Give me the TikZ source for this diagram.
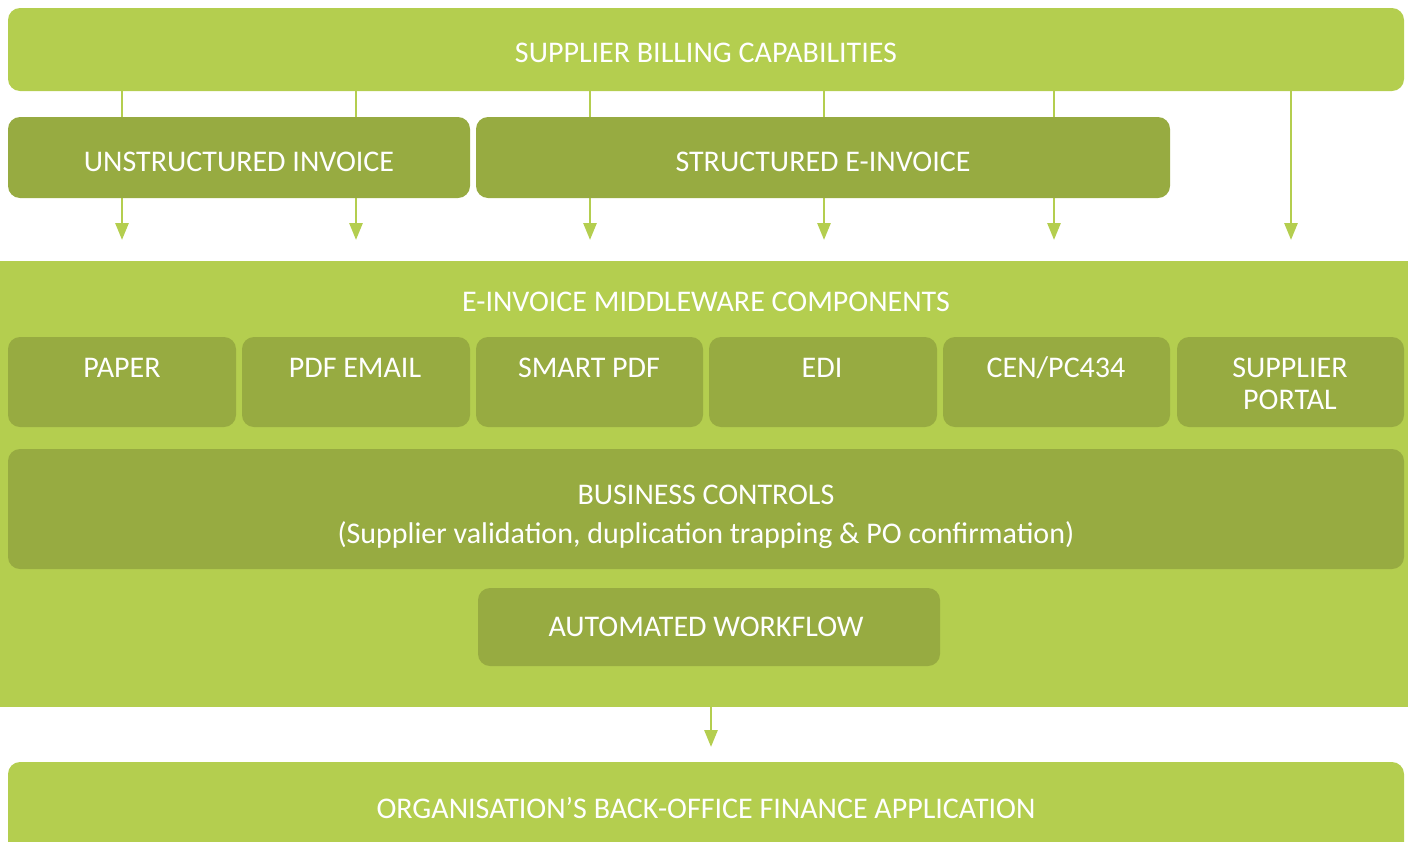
\documentclass[tikz,border=0pt]{standalone}
\usepackage{fontspec}
\setmainfont{Carlito}
\usetikzlibrary{arrows.meta}
\definecolor{lightg}{HTML}{B4CE4F}
\definecolor{darkg}{HTML}{97AB41}
\begin{document}
\begin{tikzpicture}[x=1pt,y=-1pt,
  lbl/.style={text=white,font=\fontsize{30}{32}\selectfont,align=center,inner sep=0pt},
  lightbox/.style={fill=lightg,draw=none,rounded corners=12pt},
  darkbox/.style={fill=darkg,draw=none,rounded corners=12pt},
  arr/.style={draw=lightg,line width=2.8pt,-{Triangle[width=13pt,length=17pt]}}]
\useasboundingbox (0,0) rectangle (1408,841);
% top bar
\path[lightbox] (8,8) rectangle (1404,91);
\coordinate (topS) at (706,91);
\node[lbl] (toplbl) at (706,53) {SUPPLIER BILLING CAPABILITIES};
% arrow ends
\coordinate (a1) at (122,240);
\coordinate (a2) at (356,240);
\coordinate (a3) at (590,240);
\coordinate (a4) at (824,240);
\coordinate (a5) at (1054,240);
\coordinate (a6) at (1291,240);
\foreach \a in {a1,a2,a3,a4,a5,a6}{\draw[arr] (topS -| \a) -- (\a);}
% invoice type boxes
\path[darkbox] (8,117) rectangle (470,198);
\node[lbl] (unstr) at (239,162) {UNSTRUCTURED INVOICE};
\path[darkbox] (476,117) rectangle (1170,198);
\node[lbl] (str) at (823,162) {STRUCTURED E-INVOICE};
% middleware background
\fill[lightg] (0,261) rectangle (1408,707);
\node[lbl] (mw) at (706,302) {E-INVOICE MIDDLEWARE COMPONENTS};
% six components
\path[darkbox] (8,337) rectangle (236,427);
\node[lbl,anchor=north] (c1) at (122,358) {PAPER};
\path[darkbox] (242,337) rectangle (470,427);
\node[lbl,anchor=north] (c2) at (355,358) {PDF EMAIL};
\path[darkbox] (476,337) rectangle (703,427);
\node[lbl,anchor=north] (c3) at (589,358) {SMART PDF};
\path[darkbox] (709,337) rectangle (937,427);
\node[lbl,anchor=north] (c4) at (822,358) {EDI};
\path[darkbox] (943,337) rectangle (1170,427);
\node[lbl,anchor=base] (c5) at (1056,377.5) {CEN/PC434};
\path[darkbox] (1177,337) rectangle (1404,427);
\node[lbl,anchor=north] (c6) at (1290,358) {SUPPLIER\\PORTAL};
% business controls
\path[darkbox] (8,449) rectangle (1404,569);
\node[lbl,anchor=base] (bc1) at (706,504) {BUSINESS CONTROLS};
\node[lbl,anchor=base] (bc2) at (706,543) {(Supplier validation, duplication trapping \& PO confirmation)};
% automated workflow
\path[darkbox] (478,588) rectangle (940,666);
\node[lbl] (aw) at (706,627) {AUTOMATED WORKFLOW};
% arrow to back office
\coordinate (mwS) at (711,707);
\coordinate (boN) at (711,747);
\draw[arr] (mwS) -- (boN);
% bottom bar
\path[lightbox] (8,762) rectangle (1404,870);
\node[lbl] (bo) at (706,808) {ORGANISATION’S BACK-OFFICE FINANCE APPLICATION};
\end{tikzpicture}
\end{document}
